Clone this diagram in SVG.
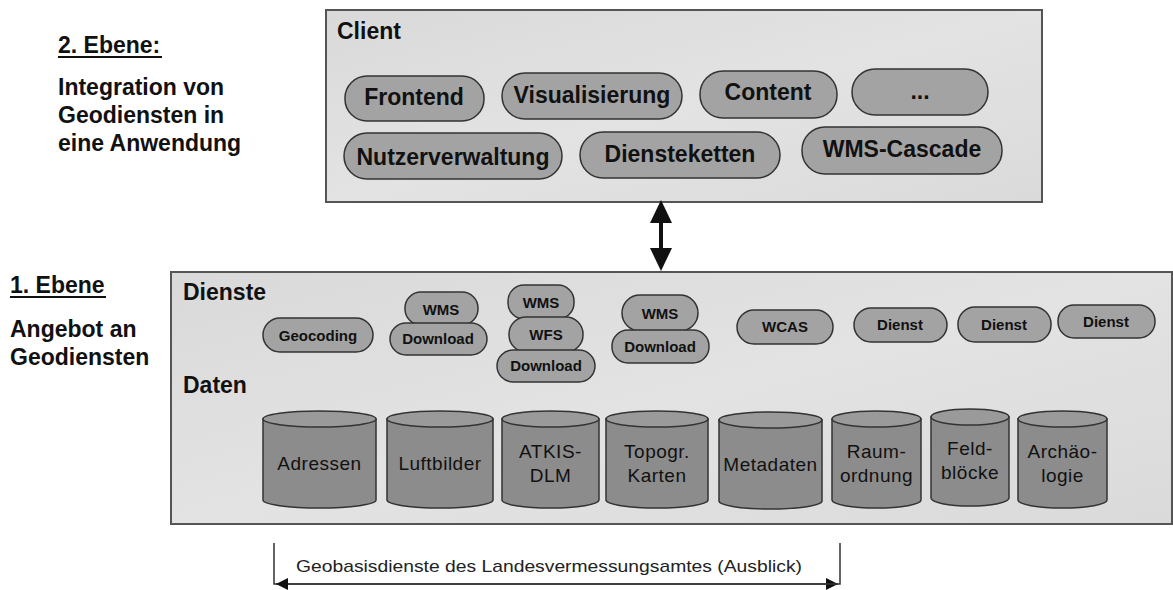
<svg xmlns="http://www.w3.org/2000/svg" width="1173" height="590" viewBox="0 0 1173 590">
<defs>
<linearGradient id="bg" x1="0" y1="0" x2="1" y2="1">
<stop offset="0" stop-color="#d9d9d9"/><stop offset="0.5" stop-color="#e3e3e3"/><stop offset="1" stop-color="#dadada"/>
</linearGradient>
<marker id="ah" viewBox="0 0 12 12" refX="12" refY="6" markerWidth="12" markerHeight="12" markerUnits="userSpaceOnUse" orient="auto-start-reverse">
<path d="M0,0 L12,6 L0,12 z" fill="#111"/>
</marker>
</defs>
<style>
.h{font-family:"Liberation Sans",Arial,sans-serif;font-weight:bold;font-size:23px;fill:#111}
.box{fill:url(#bg);stroke:#555;stroke-width:2}
.pill{fill:#a3a3a3;stroke:#333;stroke-width:1.5}
.pt{font-family:"Liberation Sans",Arial,sans-serif;font-weight:bold;font-size:23px;fill:#111;text-anchor:middle}
.st{font-family:"Liberation Sans",Arial,sans-serif;font-weight:bold;font-size:15px;fill:#111;text-anchor:middle}
.cyl{fill:#8c8c8c;stroke:#333;stroke-width:1.5}
.ct{fill:#9a9a9a;stroke:#333;stroke-width:1.5}
.dt{font-family:"Liberation Sans",Arial,sans-serif;font-size:19px;fill:#111;text-anchor:middle;letter-spacing:0.5px}
.ln{fill:none;stroke:#333;stroke-width:1.5}
</style>
<rect width="1173" height="590" fill="#fff"/>

<g id="labels">
<text class="h" x="58" y="53">2. Ebene:</text>
<line x1="58" y1="57" x2="162" y2="57" stroke="#111" stroke-width="2"/>
<text class="h" x="58" y="95">Integration von</text>
<text class="h" x="58" y="123">Geodiensten in</text>
<text class="h" x="58" y="151">eine Anwendung</text>
<text class="h" x="10" y="293">1. Ebene</text>
<line x1="10" y1="297" x2="106" y2="297" stroke="#111" stroke-width="2"/>
<text class="h" x="10" y="337">Angebot an</text>
<text class="h" x="10" y="365">Geodiensten</text>
</g>

<g id="client">
<rect class="box" x="326" y="10" width="716" height="192"/>
<text class="h" x="337" y="39">Client</text>
</g>
<g id="frontend"><rect class="pill" x="345" y="76" width="139" height="45" rx="22"/><text class="pt" x="414" y="105">Frontend</text></g>
<g id="visualisierung"><rect class="pill" x="502" y="73" width="180" height="46" rx="23"/><text class="pt" x="592" y="103">Visualisierung</text></g>
<g id="content"><rect class="pill" x="700" y="71" width="137" height="47" rx="23"/><text class="pt" x="768" y="100">Content</text></g>
<g id="more"><rect class="pill" x="852" y="69" width="136" height="46" rx="23"/><text class="pt" x="920" y="99">...</text></g>
<g id="nutzerverwaltung"><rect class="pill" x="344" y="133" width="218" height="46" rx="23"/><text class="pt" x="453" y="165">Nutzerverwaltung</text></g>
<g id="diensteketten"><rect class="pill" x="580" y="132" width="200" height="46" rx="23"/><text class="pt" x="680" y="162">Diensteketten</text></g>
<g id="wmscascade"><rect class="pill" x="802" y="127" width="200" height="47" rx="23"/><text class="pt" x="902" y="157">WMS-Cascade</text></g>

<g id="connectors">
<line x1="661" y1="218" x2="661" y2="252" stroke="#111" stroke-width="4"/>
<path d="M661,200 L672,223 L650,223 z" fill="#111"/>
<path d="M661,271 L672,248 L650,248 z" fill="#111"/>
<path class="ln" d="M274,543 L274,584 L838,584" marker-end="url(#ah)"/>
<path class="ln" d="M840,543 L840,584 L276,584" marker-end="url(#ah)"/>
</g>

<g id="ebene1">
<rect class="box" x="171" y="272" width="1001" height="252"/>
<text class="h" x="183" y="300">Dienste</text>
<text class="h" x="183" y="393">Daten</text>
</g>

<g id="geocoding"><rect class="pill" x="263" y="318" width="110" height="34" rx="17"/><text class="st" x="318" y="341">Geocoding</text></g>
<g id="stack1">
<rect class="pill" x="405" y="292" width="73" height="33" rx="16"/><text class="st" x="441" y="315">WMS</text>
<rect class="pill" x="390" y="323" width="97" height="32" rx="16"/><text class="st" x="438" y="344">Download</text>
</g>
<g id="stack2">
<rect class="pill" x="508" y="285" width="66" height="34" rx="16"/><text class="st" x="541" y="308">WMS</text>
<rect class="pill" x="509" y="317" width="74" height="35" rx="17"/><text class="st" x="546" y="340">WFS</text>
<rect class="pill" x="497" y="350" width="98" height="32" rx="16"/><text class="st" x="546" y="371">Download</text>
</g>
<g id="stack3">
<rect class="pill" x="622" y="295" width="76" height="36" rx="18"/><text class="st" x="660" y="319">WMS</text>
<rect class="pill" x="612" y="330" width="97" height="33" rx="16"/><text class="st" x="660" y="352">Download</text>
</g>
<g id="wcas"><rect class="pill" x="737" y="310" width="96" height="34" rx="17"/><text class="st" x="785" y="332">WCAS</text></g>
<g id="dienst1"><rect class="pill" x="854" y="308" width="93" height="34" rx="17"/><text class="st" x="900" y="330">Dienst</text></g>
<g id="dienst2"><rect class="pill" x="958" y="307" width="93" height="35" rx="17"/><text class="st" x="1004" y="330">Dienst</text></g>
<g id="dienst3"><rect class="pill" x="1058" y="305" width="97" height="33" rx="16"/><text class="st" x="1106" y="327">Dienst</text></g>

<g id="adressen"><path class="cyl" d="M263,419 L263,500 A56.5,8 0 0 0 376,500 L376,419 z"/><ellipse class="ct" cx="319.5" cy="419" rx="56.5" ry="8"/><text class="dt" x="319.5" y="470">Adressen</text></g>
<g id="luftbilder"><path class="cyl" d="M387,419 L387,500 A53,8 0 0 0 493,500 L493,419 z"/><ellipse class="ct" cx="440" cy="419" rx="53" ry="8"/><text class="dt" x="440" y="470">Luftbilder</text></g>
<g id="atkis"><path class="cyl" d="M502,419 L502,500 A48.5,8 0 0 0 599,500 L599,419 z"/><ellipse class="ct" cx="550.5" cy="419" rx="48.5" ry="8"/><text class="dt" x="550.5" y="458">ATKIS-</text><text class="dt" x="550.5" y="482">DLM</text></g>
<g id="topogr"><path class="cyl" d="M606,419 L606,500 A51,8 0 0 0 708,500 L708,419 z"/><ellipse class="ct" cx="657" cy="419" rx="51" ry="8"/><text class="dt" x="657" y="458">Topogr.</text><text class="dt" x="657" y="482">Karten</text></g>
<g id="metadaten"><path class="cyl" d="M719,420 L719,501 A51.5,8 0 0 0 822,501 L822,420 z"/><ellipse class="ct" cx="770.5" cy="420" rx="51.5" ry="8"/><text class="dt" x="770.5" y="471">Metadaten</text></g>
<g id="raumordnung"><path class="cyl" d="M832,419 L832,500 A44.5,8 0 0 0 921,500 L921,419 z"/><ellipse class="ct" cx="876.5" cy="419" rx="44.5" ry="8"/><text class="dt" x="876.5" y="458">Raum-</text><text class="dt" x="876.5" y="482">ordnung</text></g>
<g id="feldbloecke"><path class="cyl" d="M931,417 L931,498 A39,8 0 0 0 1009,498 L1009,417 z"/><ellipse class="ct" cx="970" cy="417" rx="39" ry="8"/><text class="dt" x="970" y="455">Feld-</text><text class="dt" x="970" y="479">blöcke</text></g>
<g id="archaeologie"><path class="cyl" d="M1018,419 L1018,500 A44.5,8 0 0 0 1107,500 L1107,419 z"/><ellipse class="ct" cx="1062.5" cy="419" rx="44.5" ry="8"/><text class="dt" x="1062.5" y="458">Archäo-</text><text class="dt" x="1062.5" y="482">logie</text></g>

<text x="296" y="572" font-family="Liberation Sans, Arial, sans-serif" font-size="17" fill="#222" textLength="506" lengthAdjust="spacingAndGlyphs">Geobasisdienste des Landesvermessungsamtes (Ausblick)</text>
</svg>
